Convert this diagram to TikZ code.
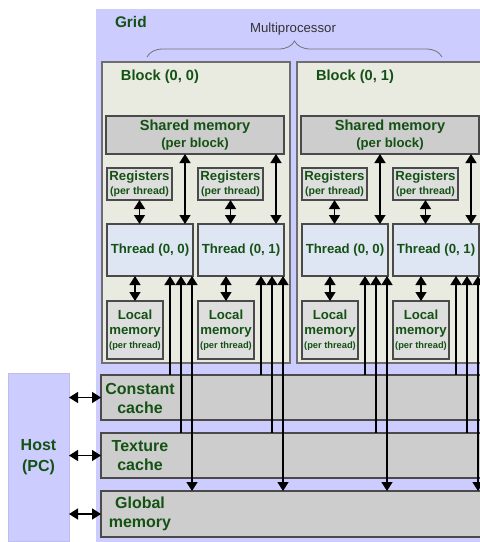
\documentclass[tikz,border=0pt]{standalone}
\usepackage{fontspec}
\setmainfont{Liberation Sans}
\usepackage{tikz}
\usetikzlibrary{arrows.meta,decorations.pathreplacing}
\definecolor{gridblue}{HTML}{CCCCFF}
\definecolor{hostline}{HTML}{BDBDEB}
\definecolor{blockfill}{HTML}{E9EBE0}
\definecolor{blockline}{HTML}{6E6E6E}
\definecolor{memfill}{HTML}{CDCDCD}
\definecolor{smallfill}{HTML}{DEDEDE}
\definecolor{threadfill}{HTML}{DFE6F3}
\definecolor{boxline}{HTML}{4A4A4A}
\definecolor{labelgreen}{HTML}{145214}
\newcommand{\fsBig}{\fontsize{16}{19}\selectfont}
\newcommand{\fsMid}{\fontsize{14.6}{17}\selectfont}
\newcommand{\fsReg}{\fontsize{13.2}{15}\selectfont}
\newcommand{\fsSmall}{\fontsize{10.6}{12}\selectfont}
\newcommand{\fsTiny}{\fontsize{9.3}{11}\selectfont}
\tikzset{>={Triangle[width=11pt,length=9pt]}}
\tikzset{
  box/.style={inner sep=0pt, outer sep=0pt, align=center, text=labelgreen, font=\bfseries},
  blockbox/.style={box, draw=blockline, line width=1.5pt, fill=blockfill, minimum width=188pt, minimum height=301pt},
  sharedbox/.style={box, draw=boxline, line width=1.3pt, fill=memfill, minimum width=178pt, minimum height=38pt},
  regbox/.style={box, draw=boxline, line width=1.3pt, fill=smallfill, minimum width=65pt, minimum height=32pt},
  threadbox/.style={box, draw=boxline, line width=1.3pt, fill=threadfill, minimum width=86pt, minimum height=52pt, font=\bfseries\fsReg},
  localbox/.style={box, draw=boxline, line width=1.3pt, fill=smallfill, minimum width=56pt, minimum height=58pt},
  cachebox/.style={box, draw=boxline, line width=1.3pt, fill=memfill, minimum width=400pt, minimum height=45pt, anchor=west},
  biglabel/.style={box, font=\bfseries\fsBig},
  link/.style={line width=1.4pt},
}

\begin{document}
\begin{tikzpicture}[x=1pt,y=-1pt]
\useasboundingbox (0,0) rectangle (480,542);
\clip (0,0) rectangle (480,542);

%Grid
\fill [gridblue] (96,9) rectangle (490,550);
\node [box, font=\bfseries\fontsize{15.4}{18}\selectfont, anchor=west] (gridlabel) at (115,22) {Grid};
\node [font=\fsReg, text=black!80] (mplabel) at (293,29) {Multiprocessor};
\draw [black!55, line width=0.8pt, decorate, decoration={brace, amplitude=16pt}] (147,57) -- (442,57);

%Block (0, 0)
\node [blockbox] (b0) at (196,212.5) {};
\node [box, font=\bfseries\fsMid, anchor=west] (b0label) at (121,77) {Block (0, 0)};
\node [sharedbox] (b0shared) at (195,135) {{\fsMid Shared memory}\\[4pt]{\fsReg (per block)}};
\node [regbox] (b0reg0) at (139.5,184) {{\fsReg Registers}\\[2pt]{\fsSmall (per thread)}};
\node [regbox] (b0reg1) at (230.5,184) {{\fsReg Registers}\\[2pt]{\fsSmall (per thread)}};
\node [threadbox] (b0th0) at (150,250) {Thread (0, 0)};
\node [threadbox] (b0th1) at (241,250) {Thread (0, 1)};
\node [localbox] (b0loc0) at (135,330) {{\fsReg Local}\\[3pt]{\fsReg memory}\\[2pt]{\fsTiny (per thread)}};
\node [localbox] (b0loc1) at (226,330) {{\fsReg Local}\\[3pt]{\fsReg memory}\\[2pt]{\fsTiny (per thread)}};

%Block (0, 1)
\node [blockbox] (b1) at (391,212.5) {};
\node [box, font=\bfseries\fsMid, anchor=west] (b1label) at (316,77) {Block (0, 1)};
\node [sharedbox] (b1shared) at (390,135) {{\fsMid Shared memory}\\[4pt]{\fsReg (per block)}};
\node [regbox] (b1reg0) at (334.5,184) {{\fsReg Registers}\\[2pt]{\fsSmall (per thread)}};
\node [regbox] (b1reg1) at (425.5,184) {{\fsReg Registers}\\[2pt]{\fsSmall (per thread)}};
\node [threadbox] (b1th0) at (345,250) {Thread (0, 0)};
\node [threadbox] (b1th1) at (436,250) {Thread (0, 1)};
\node [localbox] (b1loc0) at (330,330) {{\fsReg Local}\\[3pt]{\fsReg memory}\\[2pt]{\fsTiny (per thread)}};
\node [localbox] (b1loc1) at (421,330) {{\fsReg Local}\\[3pt]{\fsReg memory}\\[2pt]{\fsTiny (per thread)}};

%Caches and global memory
\node [cachebox] (const) at (101,397.5) {};
\node [biglabel] (constlabel) at (140,398) {Constant\\cache};
\node [cachebox] (tex) at (101,455.5) {};
\node [biglabel] (texlabel) at (140,456) {Texture\\cache};
\node [cachebox, minimum height=46pt] (glob) at (101,514) {};
\node [biglabel] (globlabel) at (140,514) {Global\\memory};

%Host
\node [biglabel, draw=hostline, line width=1pt, fill=gridblue, minimum width=61pt, minimum height=168pt] (host) at (38.5,457) {Host\\[2pt](PC)};
\draw [link, <->] (host.east |- const.west) -- (const.west);
\draw [link, <->] (host.east |- tex.west) -- (tex.west);
\draw [link, <->] (host.east |- glob.west) -- (glob.west);

%Arrows in block (0, 0)
\draw [link, <->] (b0reg0.south) -- (b0reg0.south |- b0th0.north);
\draw [link, <->] (b0reg1.south) -- (b0reg1.south |- b0th1.north);
\draw [link, <->] ([xshift=-8pt]b0th0.north east) -- ([xshift=-8pt]b0th0.north east |- b0shared.south);
\draw [link, <->] ([xshift=-8pt]b0th1.north east) -- ([xshift=-8pt]b0th1.north east |- b0shared.south);
\draw [link, <->] (b0loc0.north) -- (b0loc0.north |- b0th0.south);
\draw [link, <->] (b0loc1.north) -- (b0loc1.north |- b0th1.south);
\draw [link, <-] ([xshift=-23pt]b0th0.south east) -- ([xshift=-23pt]b0th0.south east |- const.north);
\draw [link, <-] ([xshift=-12pt]b0th0.south east) -- ([xshift=-12pt]b0th0.south east |- tex.north);
\draw [link, <->] ([xshift=-1pt]b0th0.south east) -- ([xshift=-1pt]b0th0.south east |- glob.north);
\draw [link, <-] ([xshift=-23pt]b0th1.south east) -- ([xshift=-23pt]b0th1.south east |- const.north);
\draw [link, <-] ([xshift=-12pt]b0th1.south east) -- ([xshift=-12pt]b0th1.south east |- tex.north);
\draw [link, <->] ([xshift=-1pt]b0th1.south east) -- ([xshift=-1pt]b0th1.south east |- glob.north);

%Arrows in block (0, 1)
\draw [link, <->] (b1reg0.south) -- (b1reg0.south |- b1th0.north);
\draw [link, <->] (b1reg1.south) -- (b1reg1.south |- b1th1.north);
\draw [link, <->] ([xshift=-8pt]b1th0.north east) -- ([xshift=-8pt]b1th0.north east |- b1shared.south);
\draw [link, <->] ([xshift=-8pt]b1th1.north east) -- ([xshift=-8pt]b1th1.north east |- b1shared.south);
\draw [link, <->] (b1loc0.north) -- (b1loc0.north |- b1th0.south);
\draw [link, <->] (b1loc1.north) -- (b1loc1.north |- b1th1.south);
\draw [link, <-] ([xshift=-23pt]b1th0.south east) -- ([xshift=-23pt]b1th0.south east |- const.north);
\draw [link, <-] ([xshift=-12pt]b1th0.south east) -- ([xshift=-12pt]b1th0.south east |- tex.north);
\draw [link, <->] ([xshift=-1pt]b1th0.south east) -- ([xshift=-1pt]b1th0.south east |- glob.north);
\draw [link, <-] ([xshift=-23pt]b1th1.south east) -- ([xshift=-23pt]b1th1.south east |- const.north);
\draw [link, <-] ([xshift=-12pt]b1th1.south east) -- ([xshift=-12pt]b1th1.south east |- tex.north);
\draw [link, <->] ([xshift=-1pt]b1th1.south east) -- ([xshift=-1pt]b1th1.south east |- glob.north);

\end{tikzpicture}
\end{document}
